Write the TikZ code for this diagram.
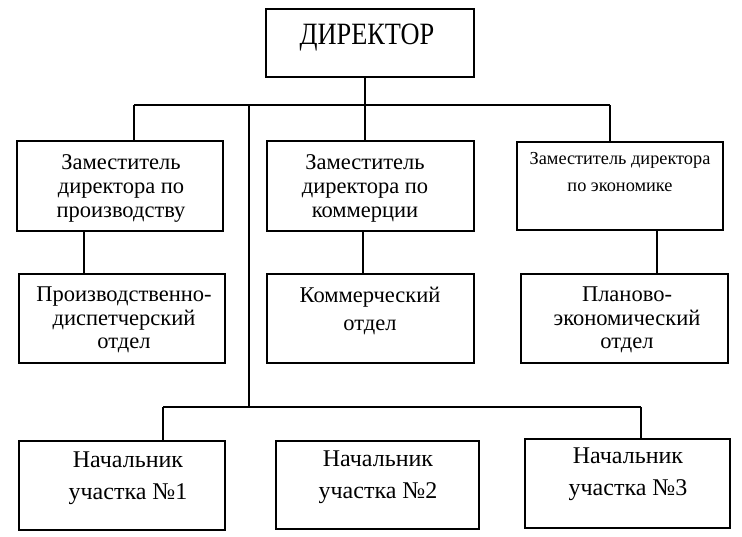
\documentclass[tikz,border=0pt]{standalone}
\usepackage{fontspec}
\setmainfont{Liberation Serif}
\newfontfamily\condfont[FakeStretch=0.85]{Liberation Serif}
\begin{document}
\begin{tikzpicture}[x=1pt,y=-1pt,
  box/.style={draw=black, line width=1.4pt, rectangle, inner sep=0pt},
  txt/.style={align=center, inner sep=0pt},
  conn/.style={line width=1.4pt}]
\useasboundingbox[fill=white] (0,0) rectangle (742,536);
% boxes
\node[box, minimum width=208pt, minimum height=68pt] (dir) at (370,43) {};
\node[box, minimum width=206pt, minimum height=90pt] (dep1) at (120,186) {};
\node[box, minimum width=207pt, minimum height=90pt] (dep2) at (370.5,186) {};
\node[box, minimum width=206pt, minimum height=88pt] (dep3) at (620,186) {};
\node[box, minimum width=206pt, minimum height=89pt] (otd1) at (122,318.5) {};
\node[box, minimum width=207pt, minimum height=89pt] (otd2) at (370.5,318.5) {};
\node[box, minimum width=207pt, minimum height=89pt] (otd3) at (624.5,318.5) {};
\node[box, minimum width=206pt, minimum height=89pt] (uch1) at (122,485.5) {};
\node[box, minimum width=203pt, minimum height=88pt] (uch2) at (377.5,485) {};
\node[box, minimum width=205pt, minimum height=89pt] (uch3) at (627.5,483.5) {};
% texts
\node[txt, font=\condfont\fontsize{31}{34}\selectfont] (tdir) at (367,38) {ДИРЕКТОР};
\node[txt, font=\fontsize{22.5}{24}\selectfont] (tdep1) at (121,188) {Заместитель\\директора по\\производству};
\node[txt, font=\fontsize{22.5}{24}\selectfont] (tdep2) at (365,188) {Заместитель\\директора по\\коммерции};
\node[txt, font=\fontsize{18.3}{27}\selectfont] (tdep3) at (620,172) {Заместитель директора\\по экономике};
\node[txt, font=\fontsize{22.5}{23.5}\selectfont] (totd1) at (124,320) {Производственно-\\диспетчерский\\отдел};
\node[txt, font=\fontsize{22.5}{28}\selectfont] (totd2) at (370,311) {Коммерческий\\отдел};
\node[txt, font=\fontsize{22.5}{23.5}\selectfont] (totd3) at (627,320) {Планово-\\экономический\\отдел};
\node[txt, font=\fontsize{24}{32}\selectfont] (tuch1) at (128,478) {Начальник\\участка №1};
\node[txt, font=\fontsize{24}{32}\selectfont] (tuch2) at (378,477) {Начальник\\участка №2};
\node[txt, font=\fontsize{24}{32}\selectfont] (tuch3) at (628,474) {Начальник\\участка №3};
% junction coordinates
\coordinate (j0) at (365,105);
\coordinate (jl) at (134,105);
\coordinate (jm) at (249,105);
\coordinate (jr) at (610,105);
\coordinate (k0) at (249,407);
\coordinate (kl) at (163,407);
\coordinate (kr) at (641,407);
\coordinate (a1) at (84,0);
\coordinate (a2) at (363,0);
\coordinate (a3) at (657,0);
% connectors
\draw[conn] (dir.south -| j0) -- (j0);
\draw[conn] (jl) -- (jr);
\draw[conn] (jl) -- (jl |- dep1.north);
\draw[conn] (j0) -- (j0 |- dep2.north);
\draw[conn] (jr) -- (jr |- dep3.north);
\draw[conn] (jm) -- (k0);
\draw[conn] (a1 |- dep1.south) -- (a1 |- otd1.north);
\draw[conn] (a2 |- dep2.south) -- (a2 |- otd2.north);
\draw[conn] (a3 |- dep3.south) -- (a3 |- otd3.north);
\draw[conn] (kl) -- (kr);
\draw[conn] (kl) -- (kl |- uch1.north);
\draw[conn] (kr) -- (kr |- uch3.north);
\end{tikzpicture}
\end{document}
